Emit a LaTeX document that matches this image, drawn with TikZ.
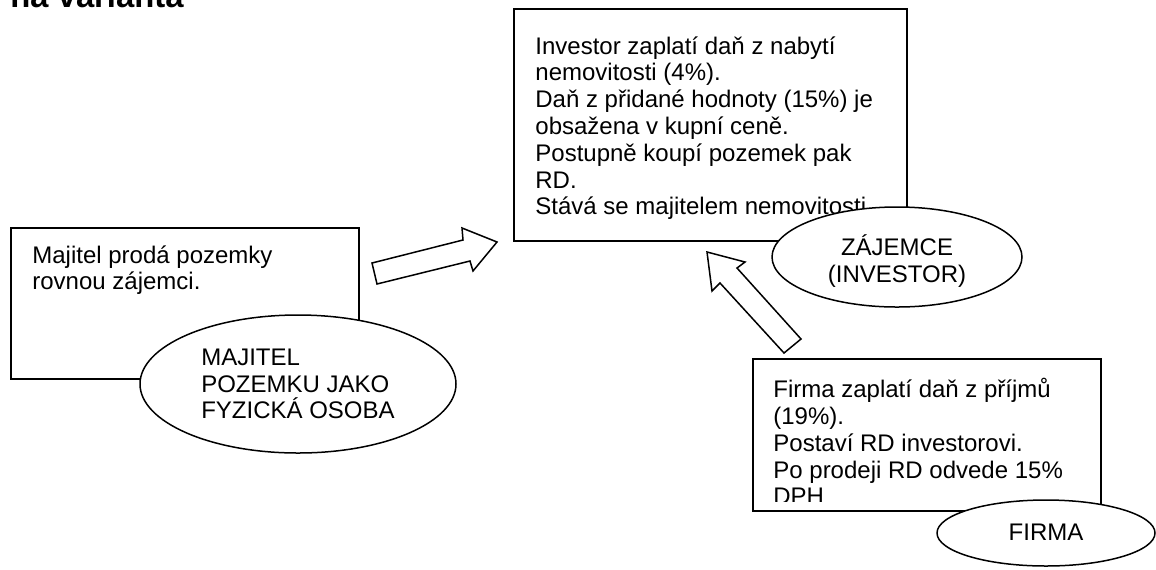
\documentclass[tikz,border=0pt]{standalone}
\usepackage{fontspec}
\setmainfont{Liberation Sans}
\usetikzlibrary{shapes.geometric, positioning}

\begin{document}
\begin{tikzpicture}[x=0.5pt, y=-0.5pt,
  box/.style={draw, line width=0.9pt, rectangle, anchor=north west, inner sep=0pt},
  oval/.style={draw, line width=0.75pt, ellipse, fill=white, inner sep=0pt, font=\fontsize{12}{13.4}\selectfont},
  txt/.style={anchor=north west, inner sep=0pt, align=left, font=\fontsize{12}{13.4}\selectfont},
  blockarrow/.style={draw, line width=0.75pt, fill=white, line join=miter}]
\useasboundingbox (0,0) rectangle (1156,569);
\node[anchor=base west, inner sep=0pt, font=\fontsize{16.4}{18}\selectfont\bfseries] (title) at (10,7) {ná varianta};

\node[box, minimum width=196.5pt, minimum height=116pt] (zajemcebox) at (513,8) {};
\node[txt] (zajemcetext) at (535,36) {Investor zaplatí daň z nabytí\\nemovitosti (4\%).\\Daň z přidané hodnoty (15\%) je\\obsažena v kupní ceně.\\Postupně koupí pozemek pak\\RD.\\Stává se majitelem nemovitosti.};

\node[box, minimum width=174pt, minimum height=75.5pt] (majitelbox) at (10,227) {};
\node[txt] (majiteltext) at (32,245) {Majitel prodá pozemky\\rovnou zájemci.};

\node[box, minimum width=174pt, minimum height=76pt] (firmabox) at (752,358) {};
\begin{scope}
\clip (752,358) rectangle (1100,501);
\node[txt] (firmatext) at (773,378) {Firma zaplatí daň z příjmů\\(19\%).\\Postaví RD investorovi.\\Po prodeji RD odvede 15\%\\DPH};
\end{scope}

\node[oval, minimum width=125pt, minimum height=50pt] (zajemce) at (897,257) {};
\node[align=center, inner sep=0pt, font=\fontsize{12}{13.4}\selectfont, yshift=-2pt] (zajemcelabel) at (zajemce.center) {ZÁJEMCE\\(INVESTOR)};
\node[oval, align=left, minimum width=158pt, minimum height=69pt] (majitel) at (298,384) {MAJITEL\\POZEMKU JAKO\\FYZICKÁ OSOBA};
\node[oval, align=center, minimum width=109pt, minimum height=33pt, text depth=1pt] (firma) at (1046,533) {FIRMA};

\draw[blockarrow] (377,284) -- (372,263) -- (463,240) -- (462,228) -- (497,242) -- (473,271) -- (470,261) -- cycle;
\draw[blockarrow] (707,252) -- (745,262) -- (737,268) -- (801,339) -- (784,353) -- (720,283) -- (712,291) -- cycle;
\end{tikzpicture}
\end{document}
